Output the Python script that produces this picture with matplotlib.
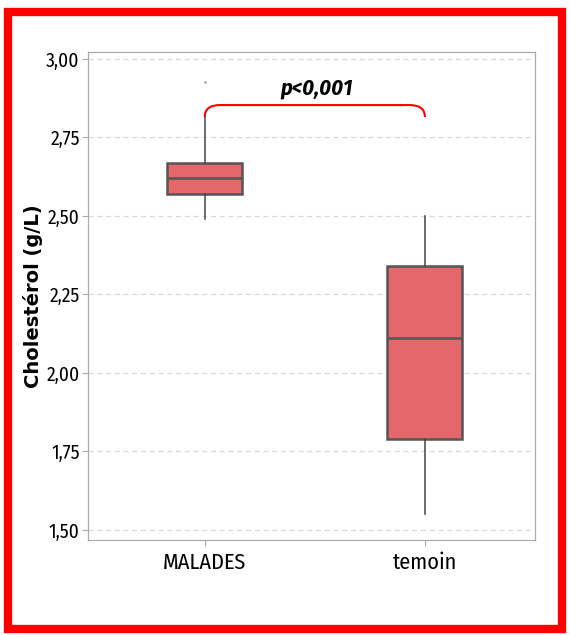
import matplotlib
matplotlib.use("Agg")
import matplotlib.pyplot as plt
from matplotlib.patches import Rectangle, PathPatch
from matplotlib.path import Path

# box statistics (g/L)
groups = ["MALADES", "temoin"]
whislo = [2.49, 1.55]
q1 = [2.57, 1.79]
med = [2.62, 2.11]
q3 = [2.67, 2.34]
whishi = [2.815, 2.50]
outliers = [[2.927], []]
yticks = [1.50, 1.75, 2.00, 2.25, 2.50, 2.75, 3.00]
p_text = "p<0,001"

narrow = ["Fira Sans Condensed", "Roboto Condensed", "DejaVu Sans"]

fig = plt.figure(figsize=(5.7, 6.35), dpi=100)
ax = fig.add_axes([88 / 570, 1 - 540 / 635, (535 - 88) / 570, (540 - 52) / 635])

stats = []
for i in range(len(groups)):
    stats.append({"label": groups[i], "whislo": whislo[i], "q1": q1[i], "med": med[i],
                  "q3": q3[i], "whishi": whishi[i], "fliers": outliers[i]})

ax.bxp(stats, positions=[0, 1], widths=0.34, patch_artist=True, showcaps=False,
       boxprops=dict(facecolor="#e4676b", edgecolor="#555555", linewidth=1.8),
       medianprops=dict(color="#555555", linewidth=1.8),
       whiskerprops=dict(color="#444444", linewidth=1.1),
       flierprops=dict(marker=".", markersize=1, color="#666666", markeredgecolor="#666666"))

ax.set_xlim(-0.53, 1.5)
ax.set_ylim(1.468, 3.022)
ax.set_yticks(yticks)
ax.set_yticklabels([f"{v:.2f}".replace(".", ",") for v in yticks], family=narrow,
                   fontsize=14, fontweight="normal")
ax.set_xticks([0, 1])
ax.set_xticklabels(groups, family=narrow, fontsize=16, fontweight="normal")
ax.tick_params(axis="both", color="#aaaaaa", length=4, width=0.8)
ax.tick_params(axis="y", pad=2)
ax.tick_params(axis="x", pad=5)
for s in ax.spines.values():
    s.set_color("#aaaaaa")
    s.set_linewidth(0.9)
ax.yaxis.grid(True, linestyle=(0, (4, 3)), color="#d8d8d8", linewidth=0.9)
ax.set_axisbelow(True)

ax.set_ylabel("Cholestérol (g/L)", fontsize=14, fontweight="bold", family="DejaVu Sans")
ax.yaxis.set_label_coords(-0.1, 0.5)

# significance bracket
yb, yt = 2.815, 2.853
verts = [(0, yb), (0, yt), (0.07, yt), (0.93, yt), (1.0, yt), (1.0, yb)]
codes = [Path.MOVETO, Path.CURVE3, Path.CURVE3, Path.LINETO, Path.CURVE3, Path.CURVE3]
ax.add_patch(PathPatch(Path(verts, codes), facecolor="none", edgecolor="red", linewidth=1.5))
ax.text(0.51, 2.905, p_text, ha="center", va="center", fontsize=16, fontweight="bold",
        style="italic", family=narrow)

# red frame round the picture
fig.patches.append(Rectangle((8 / 570, 1 - 629 / 635), 554 / 570, 617 / 635,
                             transform=fig.transFigure, fill=False, edgecolor="#ff0000",
                             linewidth=6))

fig.savefig("out.png", dpi=100)
